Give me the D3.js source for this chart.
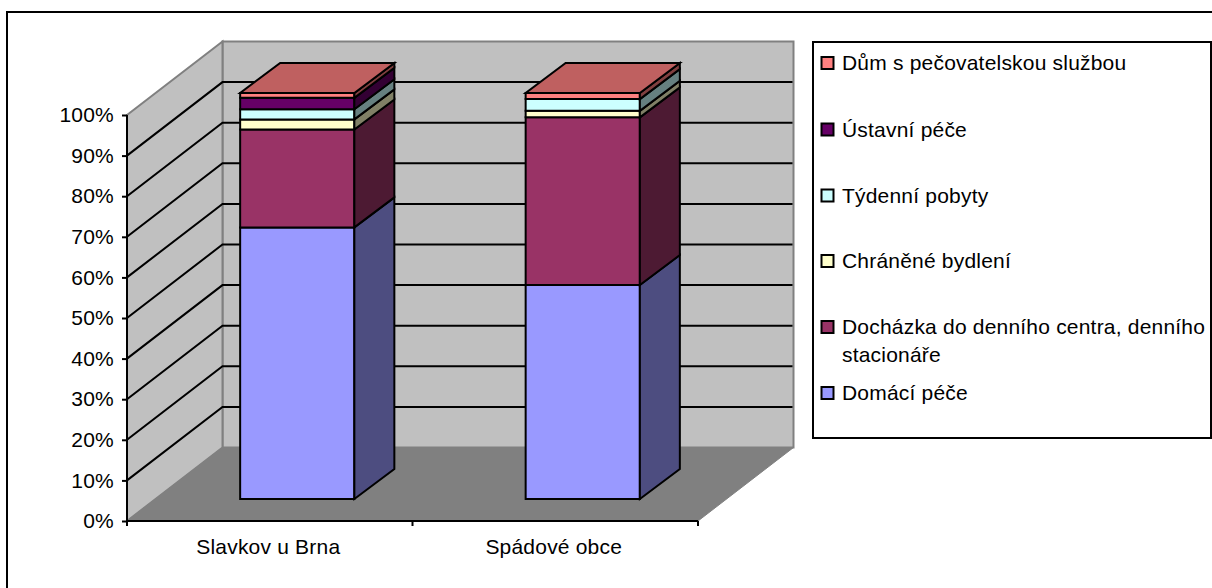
<!DOCTYPE html>
<html><head><meta charset="utf-8">
<script src="https://cdn.jsdelivr.net/npm/d3@7"></script>
<style>html,body{margin:0;padding:0;background:#fff}svg{display:block}text{font-family:"Liberation Sans",Arial,sans-serif;fill:#000;letter-spacing:0.2px}</style>
</head><body><svg id="c" width="1212" height="588"></svg>
<script>
const categories = ["Slavkov u Brna", "Spádové obce"];
const seriesNames = ["Domácí péče", "Docházka do denního centra, denního stacionáře", "Chráněné bydlení", "Týdenní pobyty", "Ústavní péče", "Dům s pečovatelskou službou"];
const domaciPece = [66.9, 52.7];
const dochazka = [24.1, 41.3];
const chranene = [2.5, 1.6];
const tydenni = [2.5, 2.9];
const ustavni = [2.8, 0];
const dum = [1.2, 1.5];
const seriesValues = [domaciPece, dochazka, chranene, tydenni, ustavni, dum];
const seriesColors = ["#9999FF", "#993366", "#FFFFCC", "#CCFFFF", "#660066", "#FF8080"];
const yTicks = [0, 10, 20, 30, 40, 50, 60, 70, 80, 90, 100];

const svg = d3.select("#c");
const depthX = 95.5, depthY = 73.5;
const barDepthX = 40, barDepthY = 30;
const barFrontX = 27.5, barFrontY = 22;
const fontSize = 21;
const x = d3.scaleBand().domain(categories).range([127, 698]).paddingInner(0.6).paddingOuter(0.3);
const y = d3.scaleLinear().domain([0, 100]).range([521, 115]);
const poly = pts => "M" + pts.map(p => p.join(",")).join("L") + "Z";
const line = d3.line();

svg.append("path").attr("d", "M7,588V12H1212").attr("fill", "none").attr("stroke", "#000").attr("stroke-width", 2);

// walls and floor
const yMin = y(0), yMax = y(100), x0 = x.range()[0], x1 = x.range()[1];
svg.append("path").attr("d", poly([[x0 + depthX, yMax - depthY], [x1 + depthX, yMax - depthY], [x1 + depthX, yMin - depthY], [x0 + depthX, yMin - depthY]])).attr("fill", "#C0C0C0").attr("stroke", "#808080").attr("stroke-width", 2);
svg.append("path").attr("d", poly([[x0, yMax], [x0 + depthX, yMax - depthY], [x0 + depthX, yMin - depthY], [x0, yMin]])).attr("fill", "#C0C0C0").attr("stroke", "#808080").attr("stroke-width", 2);
svg.append("path").attr("d", poly([[x0, yMin], [x0 + depthX, yMin - depthY], [x1 + depthX, yMin - depthY], [x1, yMin]])).attr("fill", "#808080").attr("stroke", "#808080").attr("stroke-width", 1);

// gridlines
const grid = yTicks.slice(1, -1);
svg.append("g").selectAll("path").data(grid).join("path")
  .attr("d", t => line([[x0, y(t)], [x0 + depthX, y(t) - depthY], [x1 + depthX - 1, y(t) - depthY]]))
  .attr("fill", "none").attr("stroke", "#000").attr("stroke-width", 2);

// bars
const shade = (c, k) => { const r = d3.rgb(c); return d3.rgb(r.r * k, r.g * k, r.b * k).formatHex(); };
categories.forEach((cat, i) => {
  const L = x(cat) + barFrontX, R = L + x.bandwidth();
  const g = svg.append("g");
  let acc = 0;
  seriesValues.forEach((vals, s) => {
    const v = vals[i];
    if (v <= 0) return;
    const yb = y(acc) - barFrontY, yt = y(acc + v) - barFrontY;
    acc += v;
    const col = seriesColors[s];
    g.append("path").attr("d", poly([[L, yb], [R, yb], [R, yt], [L, yt]])).attr("fill", col).attr("stroke", "#000").attr("stroke-width", 2);
    g.append("path").attr("d", poly([[R, yb], [R + barDepthX, yb - barDepthY], [R + barDepthX, yt - barDepthY], [R, yt]])).attr("fill", shade(col, 0.5)).attr("stroke", "#000").attr("stroke-width", 2);
    if (s === seriesValues.length - 1) {
      g.append("path").attr("d", poly([[L, yt], [R, yt], [R + barDepthX, yt - barDepthY], [L + barDepthX, yt - barDepthY]])).attr("fill", shade(col, 0.75)).attr("stroke", "#000").attr("stroke-width", 2);
    }
  });
});

// axes
const axisY = svg.append("g").attr("transform", `translate(${x0},0)`).call(d3.axisLeft(y).tickValues(yTicks).tickFormat(d => d + "%").tickSize(5).tickPadding(8));
const axisX = svg.append("g").attr("transform", `translate(0,${yMin})`).call(d3.axisBottom(x).tickSize(0).tickPadding(24));
[axisY, axisX].forEach(a => { a.selectAll("path,line").attr("stroke", "#000").attr("stroke-width", 2); a.selectAll("text").attr("font-size", fontSize).attr("font-family", '"Liberation Sans",Arial,sans-serif').attr("fill", "#000"); });
axisY.select(".domain").attr("d", `M0,${yMin}V${yMax}`);
axisX.select(".domain").attr("d", `M${x0},0H${x1}`);
const xTickPos = [x0, x0 + x.step(), x1];
axisX.selectAll("line.sep").data(xTickPos).join("line").attr("class", "sep").attr("x1", d => d).attr("x2", d => d).attr("y1", 0).attr("y2", 5).attr("stroke", "#000").attr("stroke-width", 2);
axisX.selectAll(".tick text").attr("dy", "0").attr("y", 33).attr("dx", -1.5);

// legend
const legend = svg.append("g");
legend.append("rect").attr("x", 813).attr("y", 42).attr("width", 398).attr("height", 396).attr("fill", "#fff").attr("stroke", "#000").attr("stroke-width", 2);
const legendOrder = seriesNames.map((n, i) => i).reverse();
const legendLines = { 1: ["Docházka do denního centra, denního", "stacionáře"] };
const legendYs = { 5: 63, 4: 129.5, 3: 195.5, 2: 261, 1: 327, 0: 393 };
legendOrder.forEach(s => {
  const cy = legendYs[s];
  legend.append("rect").attr("x", 821.5).attr("y", cy - 6).attr("width", 12).attr("height", 12).attr("fill", seriesColors[s]).attr("stroke", "#000").attr("stroke-width", 2);
  (legendLines[s] || [seriesNames[s]]).forEach((t, k) => {
    legend.append("text").attr("x", 842).attr("y", cy + 7 + k * 27.5).attr("font-size", fontSize).text(t);
  });
});
</script></body></html>
